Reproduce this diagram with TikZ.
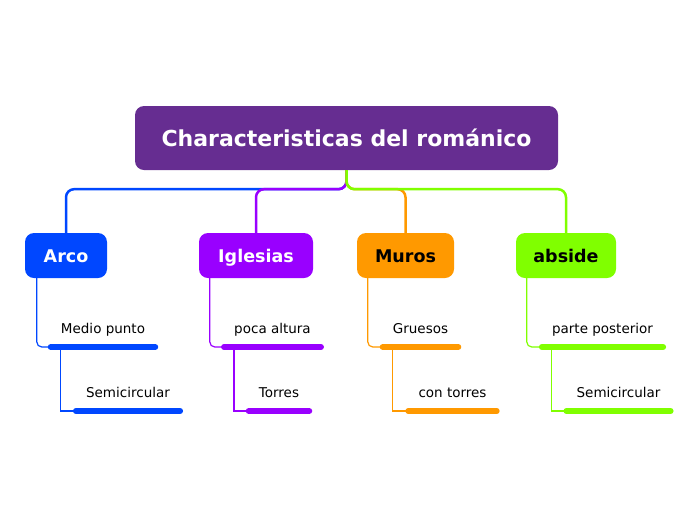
\documentclass[tikz,border=0pt]{standalone}
\usepackage{fontspec}
\setmainfont{DejaVu Sans}
\definecolor{rootcol}{HTML}{662D91}
\definecolor{arcocol}{HTML}{0047FF}
\definecolor{iglcol}{HTML}{9900FF}
\definecolor{muroscol}{HTML}{FF9900}
\definecolor{absidecol}{HTML}{80FF00}
\tikzset{
  topic/.style={rounded corners=9pt, minimum height=45pt, inner sep=0pt,
    text height=14pt, text depth=0pt, font=\fontsize{17.5}{20}\selectfont\bfseries},
  leaf/.style={anchor=south, inner xsep=10pt, inner ysep=10pt, text height=10pt,
    text depth=3pt, font=\fontsize{13.5}{16}\selectfont},
  link/.style={line width=2.5pt, rounded corners=8pt},
  twig/.style={line width=1.2pt},
  bar/.style={line width=6pt, line cap=round},
}
\begin{document}
\begin{tikzpicture}[x=1pt,y=-1pt]
\useasboundingbox (0,0) rectangle (696,520);

% main topic and the four branches
\node[topic, fill=rootcol, text=white, minimum width=423pt, minimum height=64pt,
  text height=17pt, font=\fontsize{22}{26}\selectfont\bfseries] (root) at (346.5,138) {Characteristicas del románico};
\node[topic, fill=arcocol, text=white, minimum width=82pt] (arco) at (66,255.5) {Arco};
\node[topic, fill=iglcol, text=white, minimum width=114pt] (iglesias) at (256,255.5) {Iglesias};
\node[topic, fill=muroscol, minimum width=97pt] (muros) at (405.5,255.5) {Muros};
\node[topic, fill=absidecol, minimum width=100pt] (abside) at (566,255.5) {abside};

\draw[link, arcocol] (root.south) -- ++(0,19) -| (arco.north);
\draw[link, iglcol] (root.south) -- ++(0,19) -| (iglesias.north);
\draw[link, muroscol] (root.south) -- ++(0,19) -| (muros.north);
\draw[link, absidecol] (root.south) -- ++(0,19) -| (abside.north);

% leaves
\node[leaf] (punto) at (103,347) {Medio punto};
\node[leaf] (semiA) at (128,411) {Semicircular};
\node[leaf] (altura) at (272.5,347) {poca altura};
\node[leaf] (torres) at (279,411) {Torres};
\node[leaf] (gruesos) at (420.5,347) {Gruesos};
\node[leaf] (contorres) at (452.5,411) {con torres};
\node[leaf] (parte) at (602.5,347) {parte posterior};
\node[leaf] (semiB) at (618.5,411) {Semicircular};

\draw[twig, arcocol, rounded corners=5pt] ([xshift=12pt]arco.south west) |- (punto.south west);
\draw[twig, arcocol] ([xshift=10pt]punto.south west) |- (semiA.south west);
\draw[twig, iglcol, rounded corners=5pt] ([xshift=11pt]iglesias.south west) |- (altura.south west);
\draw[twig, iglcol] ([xshift=10pt]altura.south west) |- (torres.south west);
\draw[twig, muroscol, rounded corners=5pt] ([xshift=11pt]muros.south west) |- (gruesos.south west);
\draw[twig, muroscol] ([xshift=10pt]gruesos.south west) |- (contorres.south west);
\draw[twig, absidecol, rounded corners=5pt] ([xshift=11pt]abside.south west) |- (parte.south west);
\draw[twig, absidecol] ([xshift=10pt]parte.south west) |- (semiB.south west);

\draw[bar, arcocol] (punto.south west) -- (punto.south east);
\draw[bar, arcocol] (semiA.south west) -- (semiA.south east);
\draw[bar, iglcol] (altura.south west) -- (altura.south east);
\draw[bar, iglcol] (torres.south west) -- (torres.south east);
\draw[bar, muroscol] (gruesos.south west) -- (gruesos.south east);
\draw[bar, muroscol] (contorres.south west) -- (contorres.south east);
\draw[bar, absidecol] (parte.south west) -- (parte.south east);
\draw[bar, absidecol] (semiB.south west) -- (semiB.south east);
\end{tikzpicture}
\end{document}
